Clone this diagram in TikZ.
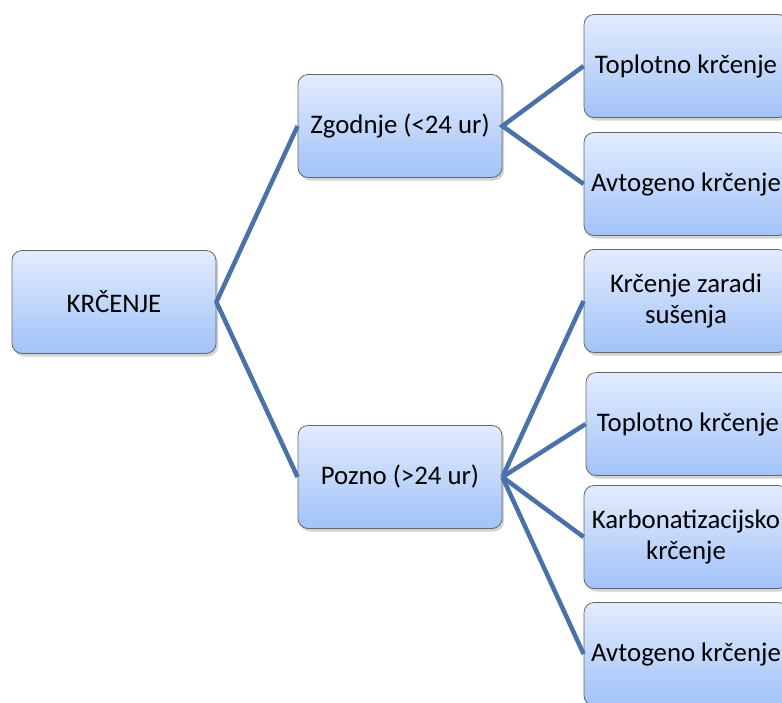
\documentclass[tikz,border=0pt]{standalone}
\usepackage{fontspec}
\setmainfont{Carlito}
\usetikzlibrary{shadows}
\definecolor{linkblue}{RGB}{72,114,168}
\definecolor{boxtop}{RGB}{226,236,253}
\definecolor{boxbot}{RGB}{162,194,248}
\definecolor{boxrim}{RGB}{96,104,112}
\tikzset{
	box/.style={draw=boxrim, line width=0.8pt, rounded corners=10pt,
		top color=boxtop, bottom color=boxbot,
		minimum width=204pt, minimum height=103pt, inner sep=0pt,
		align=center, font=\fontsize{26.8}{31}\selectfont,
		drop shadow={shadow xshift=2pt, shadow yshift=-3pt, opacity=0.35}},
	link/.style={draw=linkblue, line width=4.5pt}
}
\begin{document}
\begin{tikzpicture}[x=1pt, y=-1pt]
	\useasboundingbox (0,0) rectangle (782,702);
	% levels
	\node[box] (krc) at (114,302) {KRČENJE};
	\node[box] (zgod) at (400,126) {Zgodnje (<24 ur)};
	\node[box] (pozno) at (400,477) {Pozno (>24 ur)};
	% early
	\node[box] (topl1) at (686,66) {Toplotno krčenje};
	\node[box] (avto1) at (686,184) {Avtogeno krčenje};
	% late
	\node[box] (susen) at (686,301) {Krčenje zaradi\\sušenja};
	\node[box] (topl2) at (688,424) {Toplotno krčenje};
	\node[box] (karb) at (686,537) {Karbonatizacijsko\\krčenje};
	\node[box] (avto2) at (686,654) {Avtogeno krčenje};
	% connectors
	\draw[link] (zgod.west) -- (krc.east) -- (pozno.west);
	\draw[link] (topl1.west) -- (zgod.east) -- (avto1.west);
	\draw[link] (pozno.east) -- (susen.west);
	\draw[link] (pozno.east) -- (topl2.west);
	\draw[link] (pozno.east) -- (karb.west);
	\draw[link] (pozno.east) -- (avto2.west);
\end{tikzpicture}
\end{document}
